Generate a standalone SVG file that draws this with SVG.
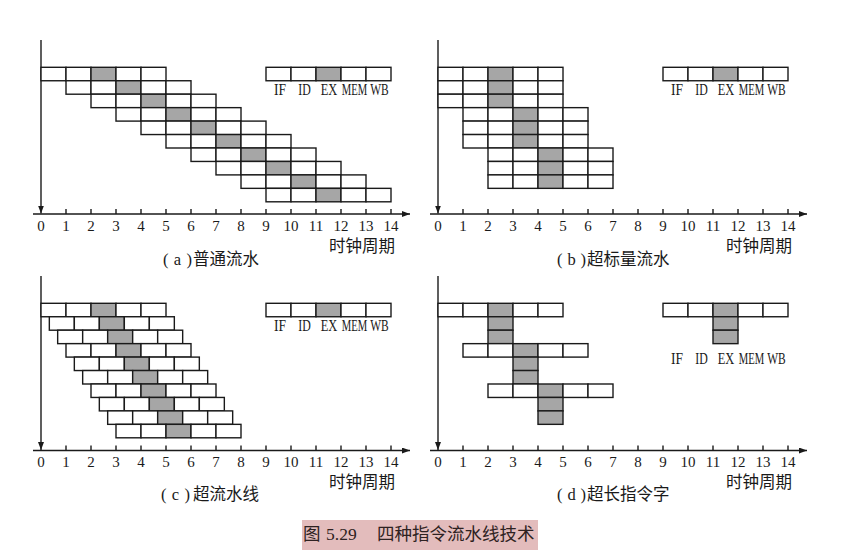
<svg xmlns="http://www.w3.org/2000/svg" width="846" height="550" viewBox="0 0 846 550">
<style>
.c{fill:#fff;stroke:#1a1a1a;stroke-width:1.4}
.s{fill:#a6a6a6;stroke:#1a1a1a;stroke-width:1.4}
.ax{stroke:#1a1a1a;stroke-width:1.4;fill:none}
.num{font-family:"Liberation Serif",serif;font-size:15px;text-anchor:middle;fill:#1a1a1a}
.lg{font-family:"Liberation Serif",serif;font-size:16.5px;text-anchor:middle;fill:#1a1a1a}
.cap{font-family:"Liberation Serif","Noto Sans CJK SC",serif;font-size:16.5px;fill:#1a1a1a}
.zh{font-family:"Noto Sans CJK SC",sans-serif}
.ttl{font-family:"Liberation Serif","Noto Sans CJK SC",serif;font-size:17.5px;fill:#2e2222}
</style>
<defs>
<marker id="arr" markerWidth="8" markerHeight="6" refX="8" refY="3" orient="auto" markerUnits="userSpaceOnUse"><path d="M0,0L8,3L0,6z" fill="#1a1a1a"/></marker>
<g id="ins">
<rect class="c" x="0" y="0" width="25" height="13.45"/>
<rect class="c" x="25" y="0" width="25" height="13.45"/>
<rect class="s" x="50" y="0" width="25" height="13.45"/>
<rect class="c" x="75" y="0" width="25" height="13.45"/>
<rect class="c" x="100" y="0" width="25" height="13.45"/>
</g>
<rect id="ex" class="s" width="25" height="13.45"/>
<g id="lbl">
<text class="lg" x="14" textLength="12" lengthAdjust="spacingAndGlyphs">IF</text>
<text class="lg" x="38.5" textLength="12.5" lengthAdjust="spacingAndGlyphs">ID</text>
<text class="lg" x="63" textLength="16.5" lengthAdjust="spacingAndGlyphs">EX</text>
<text class="lg" x="88.5" textLength="25.5" lengthAdjust="spacingAndGlyphs">MEM</text>
<text class="lg" x="113.5" textLength="18.5" lengthAdjust="spacingAndGlyphs">WB</text>
</g>
</defs>
<rect width="846" height="550" fill="#fff"/>

<g id="connectors">
<line class="ax" x1="41" y1="40" x2="41" y2="213.5" marker-end="url(#arr)"/>
<line class="ax" x1="33" y1="214" x2="410" y2="214" marker-end="url(#arr)"/>
<path class="ax" d="M66,209V214M91,209V214M116,209V214M141,209V214M166,209V214M191,209V214M216,209V214M241,209V214M266,209V214M291,209V214M316,209V214M341,209V214M366,209V214M391,209V214"/>
<line class="ax" x1="438" y1="40" x2="438" y2="213.5" marker-end="url(#arr)"/>
<line class="ax" x1="430" y1="214" x2="807" y2="214" marker-end="url(#arr)"/>
<path class="ax" d="M463,209V214M488,209V214M513,209V214M538,209V214M563,209V214M588,209V214M613,209V214M638,209V214M663,209V214M688,209V214M713,209V214M738,209V214M763,209V214M788,209V214"/>
<line class="ax" x1="41" y1="276" x2="41" y2="450" marker-end="url(#arr)"/>
<line class="ax" x1="33" y1="450.5" x2="410" y2="450.5" marker-end="url(#arr)"/>
<path class="ax" d="M66,445.5V450.5M91,445.5V450.5M116,445.5V450.5M141,445.5V450.5M166,445.5V450.5M191,445.5V450.5M216,445.5V450.5M241,445.5V450.5M266,445.5V450.5M291,445.5V450.5M316,445.5V450.5M341,445.5V450.5M366,445.5V450.5M391,445.5V450.5"/>
<line class="ax" x1="438" y1="276" x2="438" y2="450" marker-end="url(#arr)"/>
<line class="ax" x1="430" y1="450.5" x2="807" y2="450.5" marker-end="url(#arr)"/>
<path class="ax" d="M463,445.5V450.5M488,445.5V450.5M513,445.5V450.5M538,445.5V450.5M563,445.5V450.5M588,445.5V450.5M613,445.5V450.5M638,445.5V450.5M663,445.5V450.5M688,445.5V450.5M713,445.5V450.5M738,445.5V450.5M763,445.5V450.5M788,445.5V450.5"/>
</g>

<g id="panel-a">
<use href="#ins" x="41" y="67.3"/>
<use href="#ins" x="66" y="80.75"/>
<use href="#ins" x="91" y="94.2"/>
<use href="#ins" x="116" y="107.65"/>
<use href="#ins" x="141" y="121.1"/>
<use href="#ins" x="166" y="134.55"/>
<use href="#ins" x="191" y="148"/>
<use href="#ins" x="216" y="161.45"/>
<use href="#ins" x="241" y="174.9"/>
<use href="#ins" x="266" y="188.35"/>
<g id="legend-a"><use href="#ins" x="266" y="67.3"/><use href="#lbl" x="266" y="94.5"/></g>
<g class="num">
<text x="41" y="230.5">0</text><text x="66" y="230.5">1</text><text x="91" y="230.5">2</text><text x="116" y="230.5">3</text><text x="141" y="230.5">4</text><text x="166" y="230.5">5</text><text x="191" y="230.5">6</text><text x="216" y="230.5">7</text><text x="241" y="230.5">8</text><text x="266" y="230.5">9</text><text x="291" y="230.5">10</text><text x="316" y="230.5">11</text><text x="341" y="230.5">12</text><text x="366" y="230.5">13</text><text x="391" y="230.5">14</text>
</g>
<text class="cap zh" x="329" y="252" font-size="17">时钟周期</text>
<text class="cap" x="163" y="265" textLength="29" lengthAdjust="spacing">(a)</text>
<text class="cap zh" x="193" y="265">普通流水</text>
</g>

<g id="panel-b">
<use href="#ins" x="438" y="67.3"/>
<use href="#ins" x="438" y="80.75"/>
<use href="#ins" x="438" y="94.2"/>
<use href="#ins" x="463" y="107.65"/>
<use href="#ins" x="463" y="121.1"/>
<use href="#ins" x="463" y="134.55"/>
<use href="#ins" x="488" y="148"/>
<use href="#ins" x="488" y="161.45"/>
<use href="#ins" x="488" y="174.9"/>
<g id="legend-b"><use href="#ins" x="663" y="67.3"/><use href="#lbl" x="663" y="94.5"/></g>
<g class="num">
<text x="438" y="230.5">0</text><text x="463" y="230.5">1</text><text x="488" y="230.5">2</text><text x="513" y="230.5">3</text><text x="538" y="230.5">4</text><text x="563" y="230.5">5</text><text x="588" y="230.5">6</text><text x="613" y="230.5">7</text><text x="638" y="230.5">8</text><text x="663" y="230.5">9</text><text x="688" y="230.5">10</text><text x="713" y="230.5">11</text><text x="738" y="230.5">12</text><text x="763" y="230.5">13</text><text x="788" y="230.5">14</text>
</g>
<text class="cap zh" x="726" y="252" font-size="17">时钟周期</text>
<text class="cap" x="557" y="265" textLength="29" lengthAdjust="spacing">(b)</text>
<text class="cap zh" x="587" y="265">超标量流水</text>
</g>

<g id="panel-c">
<use href="#ins" x="41" y="303.3"/>
<use href="#ins" x="49.33" y="316.75"/>
<use href="#ins" x="57.67" y="330.2"/>
<use href="#ins" x="66" y="343.65"/>
<use href="#ins" x="74.33" y="357.1"/>
<use href="#ins" x="82.67" y="370.55"/>
<use href="#ins" x="91" y="384"/>
<use href="#ins" x="99.33" y="397.45"/>
<use href="#ins" x="107.67" y="410.9"/>
<use href="#ins" x="116" y="424.35"/>
<g id="legend-c"><use href="#ins" x="266" y="303.3"/><use href="#lbl" x="266" y="331"/></g>
<g class="num">
<text x="41" y="466.5">0</text><text x="66" y="466.5">1</text><text x="91" y="466.5">2</text><text x="116" y="466.5">3</text><text x="141" y="466.5">4</text><text x="166" y="466.5">5</text><text x="191" y="466.5">6</text><text x="216" y="466.5">7</text><text x="241" y="466.5">8</text><text x="266" y="466.5">9</text><text x="291" y="466.5">10</text><text x="316" y="466.5">11</text><text x="341" y="466.5">12</text><text x="366" y="466.5">13</text><text x="391" y="466.5">14</text>
</g>
<text class="cap zh" x="329" y="488" font-size="17">时钟周期</text>
<text class="cap" x="161" y="500" textLength="29" lengthAdjust="spacing">(c)</text>
<text class="cap zh" x="193" y="500">超流水线</text>
</g>

<g id="panel-d">
<use href="#ins" x="438" y="303.3"/>
<use href="#ex" x="488" y="316.75"/>
<use href="#ex" x="488" y="330.2"/>
<use href="#ins" x="463" y="343.65"/>
<use href="#ex" x="513" y="357.1"/>
<use href="#ex" x="513" y="370.55"/>
<use href="#ins" x="488" y="384"/>
<use href="#ex" x="538" y="397.45"/>
<use href="#ex" x="538" y="410.9"/>
<g id="legend-d"><use href="#ins" x="663" y="303.3"/><use href="#ex" x="713" y="316.75"/><use href="#ex" x="713" y="330.2"/><use href="#lbl" x="663" y="364"/></g>
<g class="num">
<text x="438" y="466.5">0</text><text x="463" y="466.5">1</text><text x="488" y="466.5">2</text><text x="513" y="466.5">3</text><text x="538" y="466.5">4</text><text x="563" y="466.5">5</text><text x="588" y="466.5">6</text><text x="613" y="466.5">7</text><text x="638" y="466.5">8</text><text x="663" y="466.5">9</text><text x="688" y="466.5">10</text><text x="713" y="466.5">11</text><text x="738" y="466.5">12</text><text x="763" y="466.5">13</text><text x="788" y="466.5">14</text>
</g>
<text class="cap zh" x="726" y="488" font-size="17">时钟周期</text>
<text class="cap" x="557" y="500" textLength="29" lengthAdjust="spacing">(d)</text>
<text class="cap zh" x="587" y="500">超长指令字</text>
</g>

<g id="title">
<rect x="302" y="520" width="236" height="30" fill="#e3bcbc"/>
<text class="ttl zh" x="303" y="539.5">图</text>
<text class="ttl" x="326" y="539.5">5.29</text>
<text class="ttl zh" x="377" y="539.5">四种指令流水线技术</text>
</g>
</svg>
